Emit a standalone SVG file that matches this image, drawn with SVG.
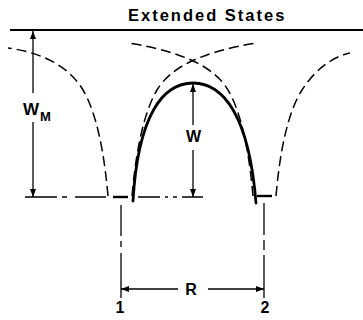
<svg xmlns="http://www.w3.org/2000/svg" width="363" height="320" viewBox="0 0 363 320">
<style>
text{font-family:"Liberation Sans",Arial,sans-serif;font-weight:bold;fill:#000}
.dash{fill:none;stroke:#000;stroke-width:1.5;stroke-dasharray:10 5}
.solid{fill:none;stroke:#000;stroke-width:2.8;stroke-linecap:round}
.thin{fill:none;stroke:#000;stroke-width:1.3}
.level{fill:none;stroke:#000;stroke-width:2.4}
.arr{fill:none;stroke:#000;stroke-width:1.3;marker-end:url(#ah)}
</style>
<defs>
<marker id="ah" viewBox="0 0 8 6" refX="8" refY="3" markerWidth="8" markerHeight="6" markerUnits="userSpaceOnUse" orient="auto">
<path d="M0,0 L8,3 L0,6 z" fill="#000"/>
</marker>
</defs>
<rect width="363" height="320" fill="#fff"/>
<g id="extended-states">
<line x1="10" y1="30" x2="363" y2="30" stroke="#000" stroke-width="2.2"/>
<text x="128" y="21" font-size="16.5" letter-spacing="2">Extended States</text>
</g>
<g id="potentials">
<path class="dash" d="M108,196 C104,150 96,112 83,90 C70,68 45,53 8,48"/>
<path class="dash" d="M132,196 C136,150 144,112 157,90 C170,68 200,52 257,43"/>
<path class="dash" d="M253,196 C249,150 241,112 228,90 C215,68 185,52 128,43"/>
<path class="dash" d="M276,196 C280,150 288,112 302,90 C311,76 327,58 350,53"/>
</g>
<g id="barrier-W">
<path class="solid" d="M133,201 C138,115 163,83 193,83 C223,83 249,115 256,203"/>
</g>
<g id="levels">
<line class="level" x1="113" y1="197" x2="128" y2="197"/>
<line class="level" x1="257" y1="196" x2="272" y2="196"/>
</g>
<g id="connectors">
<path class="thin" d="M25,197 H57 M62,197 H67 M75,197 H106 M138,197 H160 M165,197 H168 M173,197 H177 M182,197 H203"/>
<path class="thin" d="M121,205 V236 M121,241 V247 M121,253 V298"/>
<path class="thin" d="M264,203 V235 M264,240 V250 M264,255 V298"/>
<line class="arr" x1="33" y1="93" x2="33" y2="31"/>
<line class="arr" x1="33" y1="122" x2="33" y2="197"/>
<line class="arr" x1="193" y1="125" x2="193" y2="84"/>
<line class="arr" x1="193" y1="150" x2="193" y2="197"/>
<line class="arr" x1="178" y1="289" x2="121" y2="289"/>
<line class="arr" x1="208" y1="289" x2="264" y2="289"/>
</g>
<g id="labels">
<text x="23" y="115" font-size="17">W<tspan font-size="13" dx="1" dy="6">M</tspan></text>
<text x="193.5" y="142" font-size="16" text-anchor="middle">W</text>
<text x="191" y="295" font-size="16" text-anchor="middle">R</text>
<text x="120" y="313" font-size="16" text-anchor="middle">1</text>
<text x="265" y="313" font-size="16" text-anchor="middle">2</text>
</g>
</svg>
